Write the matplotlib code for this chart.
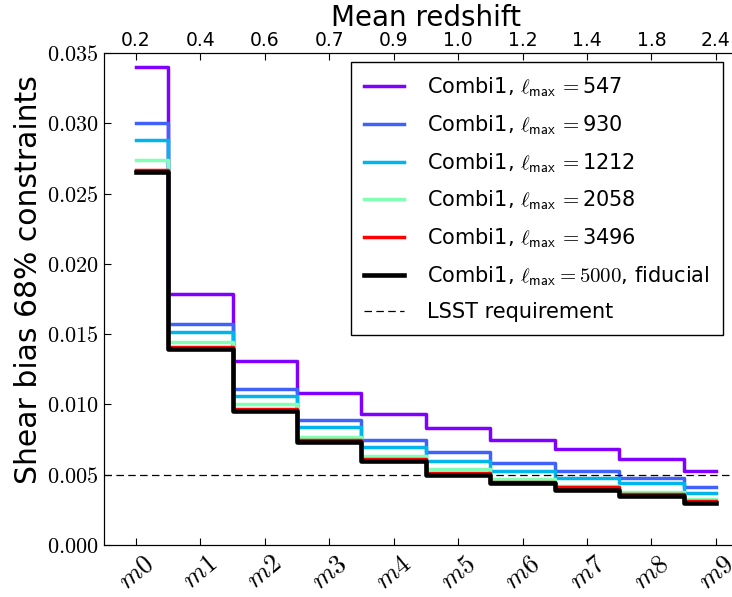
import numpy as np
import matplotlib
matplotlib.use("Agg")
import matplotlib.pyplot as plt
from matplotlib.ticker import FuncFormatter

plt.rcParams['mathtext.fontset'] = 'cm'
plt.rcParams['font.family'] = 'DejaVu Sans'

bins = ['m0', 'm1', 'm2', 'm3', 'm4', 'm5', 'm6', 'm7', 'm8', 'm9']
zmean = ['0.2', '0.4', '0.6', '0.7', '0.9', '1.0', '1.2', '1.4', '1.8', '2.4']

lmax_547 = [0.0340, 0.01786, 0.0131, 0.0108, 0.0093, 0.0083, 0.0075, 0.0068, 0.0061, 0.0053]
lmax_930 = [0.0300, 0.01572, 0.0111, 0.0089, 0.0075, 0.0066, 0.0058, 0.0053, 0.0048, 0.0041]
lmax_1212 = [0.0288, 0.01513, 0.0106, 0.0084, 0.0070, 0.0060, 0.0053, 0.0048, 0.0044, 0.0037]
lmax_2058 = [0.0274, 0.01446, 0.0100, 0.0077, 0.0063, 0.0054, 0.0047, 0.0042, 0.0038, 0.0033]
lmax_3496 = [0.0267, 0.01411, 0.0097, 0.0075, 0.0061, 0.0051, 0.0045, 0.0041, 0.0036, 0.0031]
lmax_5000 = [0.0265, 0.01392, 0.0095, 0.0073, 0.0060, 0.0050, 0.0044, 0.0039, 0.0035, 0.0030]
lsst_req = 0.005

x = np.arange(len(bins))
cols = plt.cm.rainbow([0.0, 0.125, 0.25, 0.5, 1.0])

fig = plt.figure(figsize=(7.32, 5.97), dpi=100)
ax = fig.add_axes([0.1417, 0.0871, 0.8803, 0.8241])

series = [(lmax_547, '547'), (lmax_930, '930'), (lmax_1212, '1212'),
          (lmax_2058, '2058'), (lmax_3496, '3496')]
for (vals, lab), c in zip(series, cols):
    ax.step(x, vals, where='mid', color=c, lw=2.5,
            label=r'Combi1, $\ell_{\mathsf{max}}\,{=}$' + lab)
ax.step(x, lmax_5000, where='mid', color='black', lw=3.3,
        label=r'Combi1, $\ell_{\mathsf{max}}=5000$, fiducial')
ax.axhline(lsst_req, color='black', ls=(0, (6, 3.5)), lw=0.9, label='LSST requirement')

ax.set_xlim(-0.5, 9.5)
ax.set_ylim(0, 0.035)
ax.set_xticks(x)
ax.set_xticklabels(['$' + b + '$' for b in bins], rotation=40, fontsize=19)
ax.set_yticks(np.arange(0, 0.0351, 0.005))
ax.yaxis.set_major_formatter(FuncFormatter(lambda v, p: r'$%.3f$' % v))
ax.tick_params(axis='y', labelsize=16, direction='in', length=5)
ax.tick_params(axis='x', direction='in', length=5, pad=4)
ax.set_ylabel('Shear bias 68% constraints', fontsize=21.5)
ax.yaxis.set_label_coords(-0.094, 0.54)
ax.spines['right'].set_visible(False)

ax2 = ax.twiny()
ax2.set_xlim(ax.get_xlim())
ax2.set_xticks(x)
ax2.set_xticklabels(zmean, fontsize=13.5)
ax2.tick_params(axis='x', direction='in', length=5, pad=2)
ax2.set_xlabel('Mean redshift', fontsize=20, labelpad=4)
ax2.spines['right'].set_visible(False)

leg = ax.legend(loc='upper right', bbox_to_anchor=(723 / 732, 1 - 62 / 597),
                bbox_transform=fig.transFigure, borderaxespad=0, fontsize=15,
                fancybox=False, edgecolor='black', framealpha=1,
                handlelength=1.9, handletextpad=1.1, labelspacing=0.68,
                borderpad=0.65)
leg.get_frame().set_linewidth(1.0)

fig.savefig('out.png', dpi=100)
